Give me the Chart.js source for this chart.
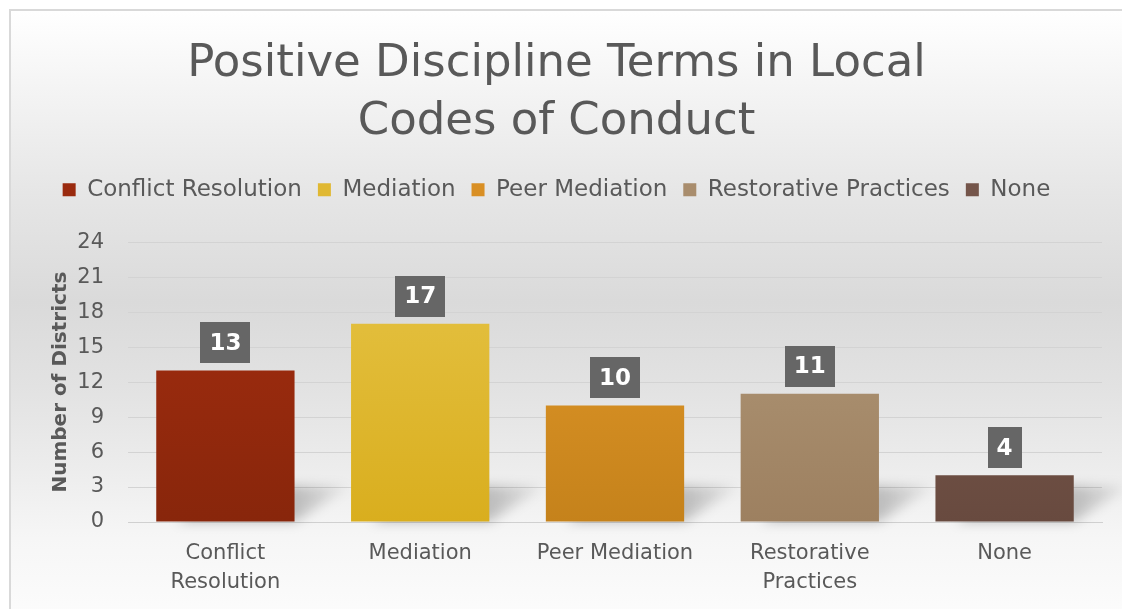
<!DOCTYPE html>
<html>
<head>
<meta charset="utf-8">
<script src="https://cdn.jsdelivr.net/npm/chart.js@4.4.0/dist/chart.umd.min.js"></script>
<style>
  html, body { margin: 0; padding: 0; background: #fff; overflow: hidden; width: 1122px; height: 609px; }
  #frame {
    position: absolute; left: 9px; top: 9px; width: 1120px; height: 610px;
    border: 2px solid #d9d9d9; box-sizing: border-box;
    background: linear-gradient(to bottom, #ffffff 0%, #f3f3f3 14%, #e6e6e6 30%, #dadada 48%, #e2e2e2 62%, #ececec 75%, #f6f6f6 87%, #fcfcfc 100%);
  }
  #wrap { position: absolute; left: 0; top: 0; width: 1111px; height: 598px; }
</style>
</head>
<body>
<div id="frame"><div id="wrap"><canvas id="chart"></canvas></div></div>
<script>
// data
const categories = ["Conflict Resolution", "Mediation", "Peer Mediation", "Restorative Practices", "None"];
const tickLabels = [["Conflict", "Resolution"], ["Mediation"], ["Peer Mediation"], ["Restorative", "Practices"], ["None"]];
const districts = [13, 17, 10, 11, 4];
const yTicks = [0, 3, 6, 9, 12, 15, 18, 21, 24];

// colors (top, bottom) for each bar
const topColors = ["#a62e10", "#e6c447", "#e59b2b", "#b39b7b", "#7f5e51"];
const bottomColors = ["#88260b", "#d9ae1e", "#c5821b", "#9d8060", "#684a3f"];
const legendColors = ["#9a2a0e", "#e0b832", "#d98f24", "#a98d6d", "#74554a"];

const FONT = "'DejaVu Sans', sans-serif";
const TEXT = "#595959";

function barGradient(context) {
  const chart = context.chart;
  const area = chart.chartArea;
  const i = context.dataIndex;
  if (!area) return topColors[i];
  const el = chart.getDatasetMeta(0).data[i];
  const top = el && el.y ? el.y : area.top;
  const g = chart.ctx.createLinearGradient(0, top, 0, area.bottom);
  g.addColorStop(0, topColors[i]);
  g.addColorStop(1, bottomColors[i]);
  return g;
}

// extra room under the legend
const legendGap = {
  id: "legendGap",
  beforeInit(chart) {
    const fit = chart.legend.fit;
    chart.legend.fit = function () {
      fit.bind(chart.legend)();
      this.height += 31;
    };
  }
};

// soft floor shadow behind each bar
const barShadow = {
  id: "barShadow",
  beforeDatasetsDraw(chart) {
    const ctx = chart.ctx;
    const base = chart.scales.y.getPixelForValue(0);
    ctx.save();
    ctx.filter = "blur(6px)";
    chart.getDatasetMeta(0).data.forEach(bar => {
      const half = bar.width / 2;
      const l = bar.x - half, r = bar.x + half;
      const g = ctx.createLinearGradient(r, 0, r + 65, 0);
      g.addColorStop(0, "rgba(0,0,0,0.22)");
      g.addColorStop(1, "rgba(0,0,0,0)");
      ctx.fillStyle = g;
      ctx.beginPath();
      ctx.moveTo(l + 20, base);
      ctx.lineTo(r, base);
      ctx.lineTo(r + 55, base - 36);
      ctx.lineTo(l + 75, base - 36);
      ctx.closePath();
      ctx.fill();
    });
    ctx.restore();
  }
};

// value boxes above the bars
const valueBoxes = {
  id: "valueBoxes",
  afterDatasetsDraw(chart) {
    const ctx = chart.ctx;
    ctx.save();
    ctx.font = "bold 23px " + FONT;
    ctx.textAlign = "center";
    ctx.textBaseline = "middle";
    chart.getDatasetMeta(0).data.forEach((bar, i) => {
      const txt = String(districts[i]);
      const w = ctx.measureText(txt).width + 18;
      const h = 41;
      const bottom = bar.y - 7;
      ctx.fillStyle = "#666666";
      ctx.fillRect(Math.round(bar.x - w / 2), Math.round(bottom - h), Math.round(w), h);
      ctx.fillStyle = "#ffffff";
      ctx.fillText(txt, bar.x, bottom - h / 2 + 1);
    });
    ctx.restore();
  }
};

new Chart(document.getElementById("chart"), {
  type: "bar",
  data: {
    labels: tickLabels,
    datasets: [{
      label: "Number of Districts",
      data: districts,
      backgroundColor: barGradient,
      borderWidth: 0,
      barPercentage: 0.71,
      categoryPercentage: 1
    }]
  },
  options: {
    responsive: true,
    maintainAspectRatio: false,
    animation: false,
    layout: { padding: { left: 0, right: 20, top: 25, bottom: 0 } },
    plugins: {
      title: {
        display: true,
        text: ["Positive Discipline Terms in Local", "Codes of Conduct"],
        color: TEXT,
        font: { family: FONT, size: 45, weight: "normal", lineHeight: 1.28 },
        padding: { top: 0, bottom: 11 }
      },
      legend: {
        display: true,
        position: "top",
        labels: {
          color: TEXT,
          font: { family: FONT, size: 23 },
          boxWidth: 13,
          boxHeight: 13,
          padding: 16,
          generateLabels: () => categories.map((c, i) => ({
            text: c,
            fillStyle: legendColors[i],
            strokeStyle: legendColors[i],
            fontColor: TEXT,
            lineWidth: 0,
            index: i
          }))
        },
        onClick: null
      },
      tooltip: { enabled: false }
    },
    scales: {
      x: {
        afterFit(scale) { scale.height = 87; },
        grid: { display: false, drawTicks: false },
        border: { display: true, color: "#d0d0d0" },
        ticks: { color: TEXT, font: { family: FONT, size: 21, lineHeight: 1.38 }, padding: 17, maxRotation: 0 }
      },
      y: {
        min: 0,
        max: 24,
        afterFit(scale) { scale.width = 117; },
        afterBuildTicks(scale) { scale.ticks = yTicks.map(v => ({ value: v })); },
        grid: { color: "#d3d3d3", drawTicks: false },
        border: { display: false },
        ticks: { color: TEXT, font: { family: FONT, size: 21 }, padding: 24 },
        title: {
          display: true,
          text: "Number of Districts",
          color: TEXT,
          font: { family: FONT, size: 20, weight: "bold" },
          padding: { top: 38, bottom: 0 }
        }
      }
    }
  },
  plugins: [legendGap, barShadow, valueBoxes]
});
</script>
</body>
</html>
